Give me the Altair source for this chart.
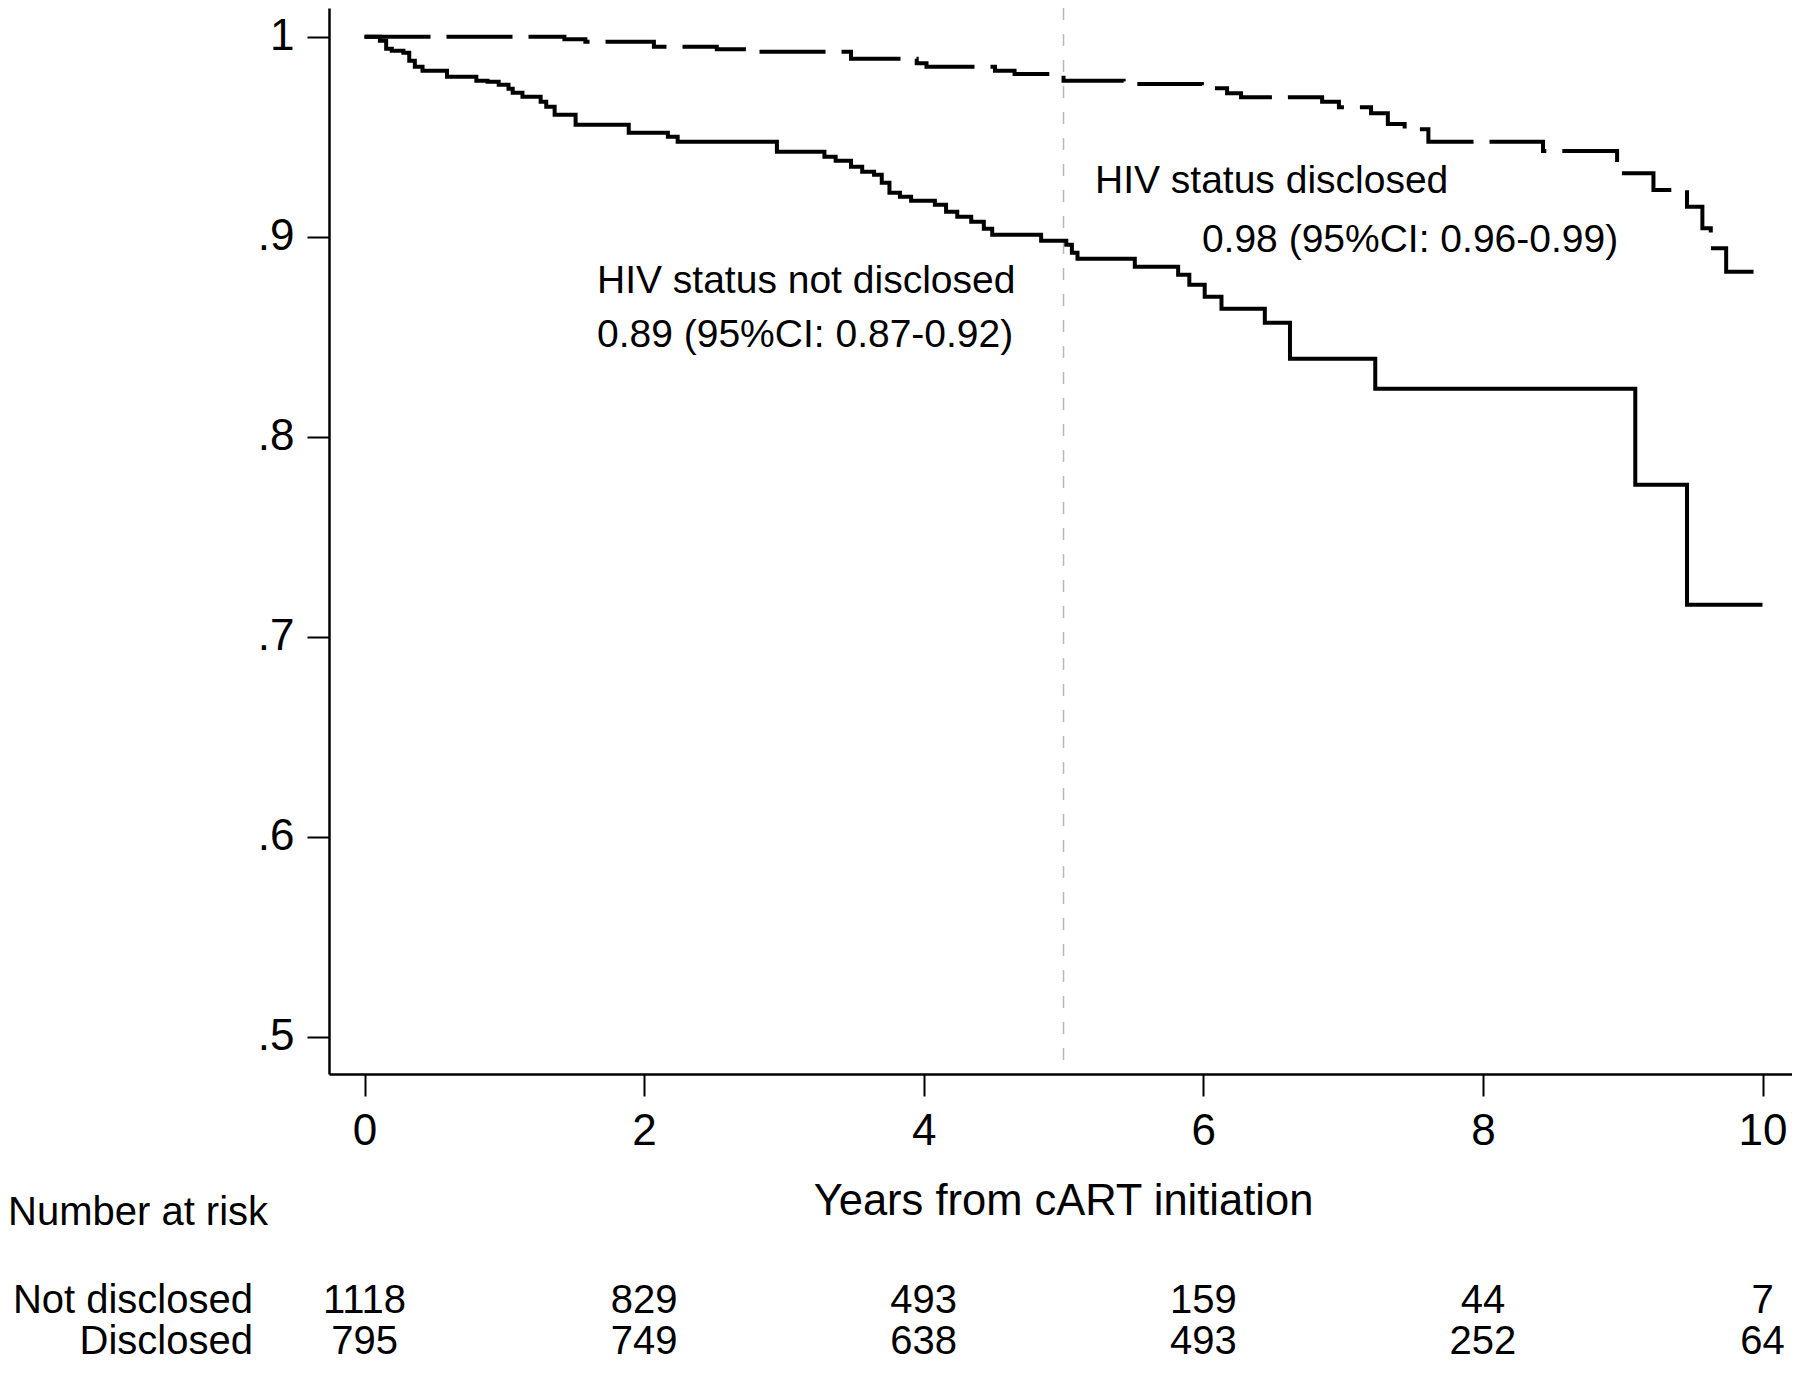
import altair as alt
import pandas as pd

# ---- Kaplan-Meier curves ----
nd_time = [0, 0.11, 0.155, 0.195, 0.278, 0.32, 0.36, 0.415, 0.59, 0.80, 0.88, 0.96, 1.03, 1.06,
           1.13, 1.26, 1.30, 1.36, 1.51, 1.89, 2.17, 2.24, 2.95, 3.29, 3.37, 3.48, 3.56, 3.645,
           3.70, 3.755, 3.83, 3.91, 4.08, 4.16, 4.24, 4.34, 4.43, 4.49, 4.84, 5.02, 5.06, 5.10,
           5.51, 5.82, 5.90, 6.01, 6.13, 6.44, 6.62, 7.23, 9.09, 9.46, 10.0]
nd_surv = [1.0, 0.998, 0.994, 0.993, 0.992, 0.988, 0.985, 0.983, 0.980, 0.978, 0.9775, 0.976, 0.974, 0.972,
           0.970, 0.9675, 0.965, 0.961, 0.956, 0.952, 0.950, 0.9475, 0.9425, 0.940, 0.938, 0.935, 0.9325, 0.931,
           0.927, 0.922, 0.920, 0.918, 0.916, 0.9125, 0.910, 0.9075, 0.904, 0.901, 0.898, 0.896, 0.892, 0.889,
           0.885, 0.881, 0.876, 0.870, 0.864, 0.857, 0.839, 0.824, 0.776, 0.716, 0.716]

d_time = [0, 1.43, 1.58, 2.07, 2.52, 2.74, 3.48, 3.95, 4.02, 4.51, 4.65, 5.0, 5.43, 5.99, 6.17, 6.27,
          6.85, 6.97, 7.20, 7.32, 7.44, 7.61, 8.43, 8.96, 8.98, 9.22, 9.46, 9.57, 9.63, 9.74, 10.0]
d_surv = [1.0, 0.9987, 0.9975, 0.995, 0.9937, 0.9925, 0.989, 0.9867, 0.985, 0.983, 0.9814, 0.978, 0.9764,
          0.9742, 0.9717, 0.9697, 0.9675, 0.9647, 0.9617, 0.9563, 0.9537, 0.9475, 0.9429, 0.9367, 0.9317,
          0.9234, 0.915, 0.9042, 0.8942, 0.8825, 0.8825]

# ---- Number at risk ----
risk_years = [0, 2, 4, 6, 8, 10]
risk_not_disclosed = [1118, 829, 493, 159, 44, 7]
risk_disclosed = [795, 749, 638, 493, 252, 64]

# ---- Annotations ----
ann_text = ["HIV status not disclosed", "0.89 (95%CI: 0.87-0.92)",
            "HIV status disclosed", "0.98 (95%CI: 0.96-0.99)"]
ann_t = [1.663, 1.663, 5.225, 5.99]
ann_s = [0.8718, 0.845, 0.9217, 0.8924]

x_ticks = [0, 2, 4, 6, 8, 10]
y_ticks = [0.5, 0.6, 0.7, 0.8, 0.9, 1.0]
ref_year = [5]

FONT = "Liberation Sans"
W, H = 1463, 1066
ROW1_Y, ROW2_Y = 1305, 1346

df_nd = pd.DataFrame({"t": nd_time, "S": nd_surv})
df_d = pd.DataFrame({"t": d_time, "S": d_surv})
df_ann = pd.DataFrame({"t": ann_t, "S": ann_s, "label": ann_text})
df_r1 = pd.DataFrame({"t": risk_years, "n": [str(v) for v in risk_not_disclosed]})
df_r2 = pd.DataFrame({"t": risk_years, "n": [str(v) for v in risk_disclosed]})
df_ref = pd.DataFrame({"t": ref_year})

xscale = alt.Scale(domain=[-0.254, 10.211], nice=False, zero=False)
yscale = alt.Scale(domain=[0.48135, 1.01435], nice=False, zero=False)

xaxis = alt.Axis(values=x_ticks, title=None, grid=False, tickSize=22, tickWidth=2,
                 tickColor="black", domainColor="black", domainWidth=2.5, format="d",
                 labelFontSize=44, labelFont=FONT, labelColor="black", labelPadding=13,
                 labelFlush=False)
yaxis = alt.Axis(values=y_ticks, title=None, grid=False, tickSize=22, tickWidth=2,
                 tickColor="black", domainColor="black", domainWidth=2.5,
                 labelFontSize=44, labelFont=FONT, labelColor="black", labelPadding=13,
                 labelExpr="replace(format(datum.value, '.1~f'), '0.', '.')")

ref_rule = alt.Chart(df_ref).mark_rule(color="#b8b8b8", strokeWidth=1.5, strokeDash=[12, 14]).encode(
    x=alt.X("t:Q", scale=xscale, axis=xaxis)
)

line_nd = alt.Chart(df_nd).mark_line(interpolate="step-after", color="black", strokeWidth=4).encode(
    x=alt.X("t:Q", scale=xscale, axis=xaxis),
    y=alt.Y("S:Q", scale=yscale, axis=yaxis),
)

line_d = alt.Chart(df_d).mark_line(interpolate="step-after", color="black", strokeWidth=4,
                                   strokeDash=[66, 16]).encode(
    x=alt.X("t:Q", scale=xscale),
    y=alt.Y("S:Q", scale=yscale),
)

ann = alt.Chart(df_ann).mark_text(align="left", baseline="alphabetic", fontSize=39, font=FONT,
                                  color="black").encode(
    x=alt.X("t:Q", scale=xscale),
    y=alt.Y("S:Q", scale=yscale),
    text="label:N",
)

risk1 = alt.Chart(df_r1).mark_text(align="center", baseline="alphabetic", fontSize=40, font=FONT,
                                   color="black").encode(
    x=alt.X("t:Q", scale=xscale), y=alt.value(ROW1_Y), text="n:N")
risk2 = alt.Chart(df_r2).mark_text(align="center", baseline="alphabetic", fontSize=40, font=FONT,
                                   color="black").encode(
    x=alt.X("t:Q", scale=xscale), y=alt.value(ROW2_Y), text="n:N")

row_lab1 = alt.Chart(pd.DataFrame({"label": ["Not disclosed"]})).mark_text(
    align="right", baseline="alphabetic", fontSize=40, font=FONT, color="black").encode(
    x=alt.value(-76), y=alt.value(ROW1_Y), text="label:N")
row_lab2 = alt.Chart(pd.DataFrame({"label": ["Disclosed"]})).mark_text(
    align="right", baseline="alphabetic", fontSize=40, font=FONT, color="black").encode(
    x=alt.value(-76), y=alt.value(ROW2_Y), text="label:N")
risk_title = alt.Chart(pd.DataFrame({"label": ["Number at risk"]})).mark_text(
    align="left", baseline="alphabetic", fontSize=40, font=FONT, color="black").encode(
    x=alt.value(-321), y=alt.value(1217), text="label:N")

x_title = alt.Chart(pd.DataFrame({"t": [5], "label": ["Years from cART initiation"]})).mark_text(
    align="center", baseline="alphabetic", fontSize=43.5, font=FONT, color="black").encode(
    x=alt.X("t:Q", scale=xscale), y=alt.value(1207), text="label:N")

chart = alt.layer(
    ref_rule, line_nd, line_d, ann, risk1, risk2, row_lab1, row_lab2, risk_title, x_title
).properties(
    width=W, height=H,
    autosize=alt.AutoSizeParams(type="none"),
    padding={"left": 321, "top": 0, "right": 0, "bottom": 290},
    background="white",
).configure_view(stroke=None)

chart.save("out.html", embed_options={"renderer": "svg", "actions": False})
